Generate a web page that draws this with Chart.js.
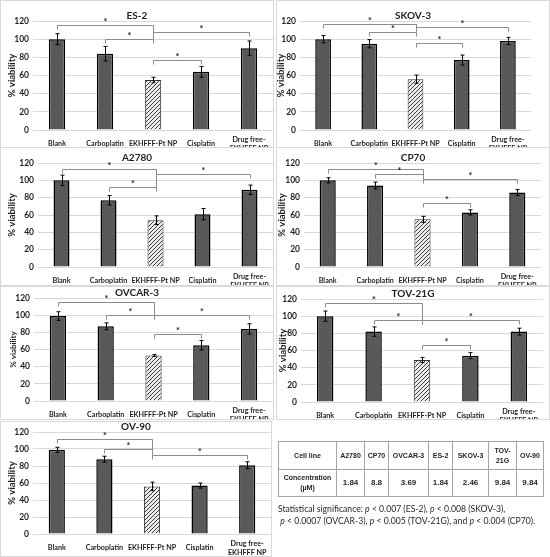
<!DOCTYPE html>
<html>
<head>
<meta charset="utf-8">
<script src="https://cdn.jsdelivr.net/npm/chart.js@4.4.1/dist/chart.umd.min.js"></script>
<style>
  body { margin: 0; background: #fff; width: 550px; height: 557px; position: relative; overflow: hidden; }
  canvas.panel { position: absolute; outline: 1px solid #d9d9d9; outline-offset: -1px; }
  #conc { position: absolute; left: 278px; top: 441px; border-collapse: collapse; font-family: "Liberation Sans", Arial, sans-serif; font-weight: bold; color: #262626; }
  #conc td { border: 1px solid #a6a6a6; text-align: center; padding: 0; font-size: 7px; line-height: 10px; }
  #conc tr.vals td { font-size: 8px; }
  #note { position: absolute; left: 278px; top: 503px; font-family: Lato, sans-serif; font-size: 9px; line-height: 12px; color: #262626; white-space: nowrap; }
</style>
</head>
<body>
<canvas id="c1" class="panel"></canvas>
<canvas id="c2" class="panel"></canvas>
<canvas id="c3" class="panel"></canvas>
<canvas id="c4" class="panel"></canvas>
<canvas id="c5" class="panel"></canvas>
<canvas id="c6" class="panel"></canvas>
<canvas id="c7" class="panel"></canvas>

<table id="conc">
  <tr style="height:28px">
    <td style="width:57px">Cell line</td><td style="width:27px">A2780</td><td style="width:23px">CP70</td>
    <td style="width:39px">OVCAR-3</td><td style="width:23px">ES-2</td><td style="width:35px">SKOV-3</td>
    <td style="width:27px">TOV-<br>21G</td><td style="width:26px">OV-90</td>
  </tr>
  <tr class="vals" style="height:27px">
    <td style="font-size:7px">Concentration<br>(µM)</td><td>1.84</td><td>8.8</td><td>3.69</td><td>1.84</td><td>2.46</td><td>9.84</td><td>9.84</td>
  </tr>
</table>

<div id="note"><span id="line1">Statistical significance: <i>p</i> &lt; 0.007 (ES-2), <i>p</i> &lt; 0.008 (SKOV-3),</span><br>&nbsp;<i>p</i> &lt; 0.0007 (OVCAR-3), <i>p</i> &lt; 0.005 (TOV-21G), and <i>p</i> &lt; 0.004 (CP70).</div>

<script>
// categorias e eixo
const categories = ["Blank", "Carboplatin", "EKHFFF-Pt NP", "Cisplatin", ["Drug free-", "EKHFFF NP"]];
const yTicks = [0, 20, 40, 60, 80, 100, 120];

// ES-2
const es2Values = [100, 84, 55, 64, 90];
const es2Errors = [6, 8, 3, 6, 8];
const es2Brackets = [[0, 2, 115.6], [1, 2, 100], [2, 4, 108], [2, 3, 77]];

// SKOV-3
const skov3Values = [100, 95, 56, 77, 98];
const skov3Errors = [4, 4.5, 4.5, 5.5, 4];
const skov3Brackets = [[0, 2, 116.7], [1, 2, 108], [2, 4, 113], [2, 3, 96]];

// A2780
const a2780Values = [100, 77, 54, 61, 89];
const a2780Errors = [6, 5.5, 5, 6.5, 5.5];
const a2780Brackets = [[0, 2, 112.7], [1, 2, 92.6], [2, 4, 106.9]];

// CP70
const cp70Values = [100, 94, 55, 63, 86];
const cp70Errors = [3, 4, 3.5, 3, 3.5];
const cp70Brackets = [[0, 2, 112.7], [1, 2, 107.3], [2, 4, 101.1], [2, 3, 74.2]];

// OVCAR-3
const ovcar3Values = [99, 87, 53, 65, 84];
const ovcar3Errors = [5, 4, 1, 5.5, 6];
const ovcar3Brackets = [[0, 2, 115.7], [1, 2, 100.2], [2, 4, 100.2], [2, 3, 77.7]];

// TOV-21G
const tov21gValues = [100, 82, 49, 54, 82];
const tov21gErrors = [6, 5.5, 3, 3.5, 4];
const tov21gBrackets = [[0, 2, 115], [1, 2, 95.6], [2, 4, 95.6], [2, 3, 66.4]];

// OV-90
const ov90Values = [99, 88, 56, 57, 81];
const ov90Errors = [3, 3.5, 5, 3, 4];
const ov90Brackets = [[0, 2, 111.8], [1, 2, 100], [2, 4, 92.9]];

// posição de cada painel na página
const panels = [
  { id: "c1", title: "ES-2", values: es2Values, errors: es2Errors, brackets: es2Brackets,
    left: 0, top: 0, w: 274, h: 148, plotT: 21, plotB: 130, plotL: 33, plotR: 273, yTitleX: 12, yTitleSize: 9.5 },
  { id: "c2", title: "SKOV-3", values: skov3Values, errors: skov3Errors, brackets: skov3Brackets,
    left: 276, top: 0, w: 274, h: 148, plotT: 21, plotB: 130, plotL: 24, plotR: 255, yTitleX: 5, yTitleSize: 9.5 },
  { id: "c3", title: "A2780", values: a2780Values, errors: a2780Errors, brackets: a2780Brackets,
    left: 0, top: 147, w: 274, h: 139, plotT: 16, plotB: 120, plotL: 38, plotR: 273, yTitleX: 12, yTitleSize: 9.5 },
  { id: "c4", title: "CP70", values: cp70Values, errors: cp70Errors, brackets: cp70Brackets,
    left: 276, top: 147, w: 274, h: 139, plotT: 16, plotB: 120, plotL: 28, plotR: 265, yTitleX: 6, yTitleSize: 9.5 },
  { id: "c5", title: "OVCAR-3", values: ovcar3Values, errors: ovcar3Errors, brackets: ovcar3Brackets,
    left: 0, top: 286, w: 274, h: 134, plotT: 12, plotB: 115, plotL: 34, plotR: 273, yTitleX: 13, yTitleSize: 8 },
  { id: "c6", title: "TOV-21G", values: tov21gValues, errors: tov21gErrors, brackets: tov21gBrackets,
    left: 276, top: 286, w: 274, h: 134, plotT: 13, plotB: 116, plotL: 25, plotR: 267, yTitleX: 7, yTitleSize: 9.5 },
  { id: "c7", title: "OV-90", values: ov90Values, errors: ov90Errors, brackets: ov90Brackets,
    left: 0, top: 421, w: 272, h: 136, plotT: 11, plotB: 113, plotL: 33, plotR: 271, yTitleX: 12, yTitleSize: 9.5 },
];

const FONT = "Lato, 'Open Sans', sans-serif";
const TEXT = "#1f1f1f";

// ajusta o tamanho da nota de rodapé à largura da original
(function fitNote() {
  const note = document.getElementById("note");
  const w = document.getElementById("line1").getBoundingClientRect().width;
  note.style.fontSize = (9 * 228 / w).toFixed(2) + "px";
})();

// textura hachurada da barra EKHFFF-Pt NP
function makeHatch() {
  const c = document.createElement("canvas");
  c.width = 4; c.height = 4;
  const g = c.getContext("2d");
  g.fillStyle = "#ececec";
  g.fillRect(0, 0, 4, 4);
  g.strokeStyle = "#3a3a3a";
  g.lineWidth = 1;
  g.beginPath();
  g.moveTo(0, 4); g.lineTo(4, 0);
  g.moveTo(-1, 1); g.lineTo(1, -1);
  g.moveTo(3, 5); g.lineTo(5, 3);
  g.stroke();
  return g.createPattern(c, "repeat");
}
const hatch = makeHatch();

// barras de erro, colchetes de significância e títulos
function makeAnnotations(p) {
  return {
    id: "annot_" + p.id,
    afterDatasetsDraw(chart) {
      const ctx = chart.ctx, xs = chart.scales.x, ys = chart.scales.y;
      ctx.save();
      // barras de erro
      ctx.strokeStyle = "#000";
      ctx.lineWidth = 1;
      p.values.forEach((v, i) => {
        const cx = Math.round(xs.getPixelForValue(i)) + 0.5;
        const hi = ys.getPixelForValue(v + p.errors[i]);
        const lo = ys.getPixelForValue(v - p.errors[i]);
        ctx.beginPath();
        ctx.moveTo(cx, hi); ctx.lineTo(cx, lo);
        ctx.moveTo(cx - 2, hi); ctx.lineTo(cx + 2, hi);
        ctx.moveTo(cx - 2, lo); ctx.lineTo(cx + 2, lo);
        ctx.stroke();
      });
      // colchetes
      ctx.strokeStyle = "#8c8c8c";
      ctx.fillStyle = "#222";
      ctx.font = "bold 9px " + FONT;
      ctx.textAlign = "center";
      ctx.textBaseline = "middle";
      const leg = 4;
      const hubLevels = [];
      p.brackets.forEach(([a, b, lvl]) => {
        const xa = Math.round(xs.getPixelForValue(a)) + 0.5;
        const xb = Math.round(xs.getPixelForValue(b)) + 0.5;
        const yy = Math.round(ys.getPixelForValue(lvl)) + 0.5;
        ctx.beginPath();
        ctx.moveTo(xa, yy + leg); ctx.lineTo(xa, yy); ctx.lineTo(xb, yy); ctx.lineTo(xb, yy + leg);
        ctx.stroke();
        ctx.fillText("*", (xa + xb) / 2, yy - 3);
        if (a !== 3 && b !== 3) hubLevels.push(yy);
      });
      if (hubLevels.length > 1) {
        const hx = Math.round(xs.getPixelForValue(2)) + 0.5;
        ctx.beginPath();
        ctx.moveTo(hx, Math.min(...hubLevels));
        ctx.lineTo(hx, Math.max(...hubLevels));
        ctx.stroke();
      }
      ctx.restore();
    },
    afterDraw(chart) {
      const ctx = chart.ctx, area = chart.chartArea;
      ctx.save();
      ctx.fillStyle = TEXT;
      ctx.textAlign = "center";
      ctx.textBaseline = "middle";
      ctx.font = "bold 10px " + FONT;
      ctx.fillText(p.title, chart.width / 2, area.top - 5);
      ctx.translate(p.yTitleX, (area.top + area.bottom) / 2);
      ctx.rotate(-Math.PI / 2);
      ctx.font = "bold " + p.yTitleSize + "px " + FONT;
      ctx.fillText("% viability", 0, 0);
      ctx.restore();
    }
  };
}

panels.forEach((p) => {
  const canvas = document.getElementById(p.id);
  canvas.width = p.w;
  canvas.height = p.h;
  canvas.style.left = p.left + "px";
  canvas.style.top = p.top + "px";
  canvas.style.width = p.w + "px";
  canvas.style.height = p.h + "px";

  new Chart(canvas, {
    type: "bar",
    data: {
      labels: categories,
      datasets: [{
        data: p.values,
        backgroundColor: ["#595959", "#595959", hatch, "#595959", "#595959"],
        borderColor: ["#000", "#000", "#333", "#000", "#000"],
        borderWidth: [1.5, 1.5, 1, 1.5, 1.5],
        categoryPercentage: 1,
        barPercentage: 0.34,
      }],
    },
    options: {
      responsive: false,
      animation: false,
      devicePixelRatio: window.devicePixelRatio || 1,
      layout: { padding: { top: p.plotT, right: p.w - p.plotR, left: 0, bottom: 0 } },
      plugins: { legend: { display: false }, tooltip: { enabled: false } },
      scales: {
        x: {
          grid: { display: false },
          border: { display: false },
          ticks: {
            color: TEXT,
            font: { family: FONT, size: 7.2, weight: "bold", lineHeight: 1.15 },
            padding: 2,
            maxRotation: 0,
            autoSkip: false,
            crossAlign: "center",
          },
          afterFit: (axis) => { axis.height = p.h - p.plotB; },
        },
        y: {
          min: 0,
          max: 120,
          afterBuildTicks: (axis) => { axis.ticks = yTicks.map((v) => ({ value: v })); },
          grid: { color: "#d9d9d9", lineWidth: 1, drawTicks: false },
          border: { display: false },
          ticks: {
            color: TEXT,
            font: { family: FONT, size: 8.5, weight: "bold" },
            padding: 4,
          },
          afterFit: (axis) => { axis.width = p.plotL; },
        },
      },
    },
    plugins: [makeAnnotations(p)],
  });
});
</script>
</body>
</html>
